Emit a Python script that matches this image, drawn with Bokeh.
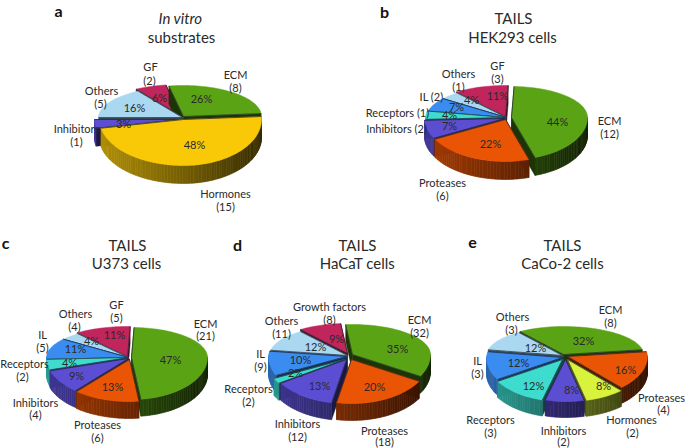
import math
from bokeh.plotting import figure
from bokeh.models import Range1d
from bokeh.core.properties import value
from bokeh.embed import file_html
from bokeh.resources import INLINE

# ---- data
a_cats = ["ECM", "Hormones", "Inhibitors", "Others", "GF"]
a_pct = [26, 48, 3, 16, 6]
a_cnt = [8, 15, 1, 5, 2]
b_cats = ["ECM", "Proteases", "Inhibitors", "Receptors", "IL", "Others", "GF"]
b_pct = [44, 22, 7, 4, 7, 4, 11]
b_cnt = [12, 6, 2, 1, 2, 1, 3]
c_cats = ["ECM", "Proteases", "Inhibitors", "Receptors", "IL", "Others", "GF"]
c_pct = [47, 13, 9, 4, 11, 4, 11]
c_cnt = [21, 6, 4, 2, 5, 4, 5]
d_cats = ["ECM", "Proteases", "Inhibitors", "Receptors", "IL", "Others", "Growth factors"]
d_pct = [35, 20, 13, 2, 10, 12, 9]
d_cnt = [32, 18, 12, 2, 9, 11, 8]
e_cats = ["ECM", "Proteases", "Hormones", "Inhibitors", "Receptors", "IL", "Others"]
e_pct = [32, 16, 8, 8, 12, 12, 12]
e_cnt = [8, 4, 2, 2, 3, 3, 3]

# ---- styles
COLORS = {"ECM": "#5aa315", "Hormones": "#f9c908", "Proteases": "#ea5505",
          "Inhibitors": "#5c4ed2", "Receptors": "#3edccf", "IL": "#3a8cf0",
          "Others": "#a9d8f0", "GF": "#c0255c", "Growth factors": "#c0255c"}
HORMONE_E = "#d9f23c"
FONT = "Lato"
LABEL = "11px"
TITLE = "15px"
INK = "#2a2a2a"


def rgb(h):
    return tuple(int(h[i:i + 2], 16) for i in (1, 3, 5))


def shade(h, f):
    return "#%02x%02x%02x" % tuple(max(0, min(255, int(c * f))) for c in rgb(h))


p = figure(width=685, height=448, x_range=Range1d(0, 685), y_range=Range1d(448, 0),
           toolbar_location=None, output_backend="svg", x_axis_location=None,
           y_axis_location=None, min_border=0, outline_line_color=None)
p.grid.visible = False


def pie(cats, pct, geom, offsets, colors=None):
    cx, cy, rxl, rxr, ryt, ryb, depth, start = geom
    total = sum(pct)

    def pt(t, ox, oy):
        c, s = math.cos(t), math.sin(t)
        return (cx + ox + (rxr if c > 0 else rxl) * c,
                cy + oy - (ryt if s > 0 else ryb) * s)

    items = []
    ang = math.radians(start)
    for cat, v, off in zip(cats, pct, offsets):
        sweep = 2 * math.pi * v / total
        items.append((cat, ang, ang - sweep, off))
        ang -= sweep
    # painter's order: back slices first
    def key(it):
        mid = (it[1] + it[2]) / 2
        return pt(mid, it[3][0], it[3][1])[1]
    items.sort(key=key)

    for cat, t0, t1, (ox, oy) in items:
        col = (colors or {}).get(cat, COLORS[cat])
        n = max(4, int(abs(t0 - t1) / math.radians(2)))
        ts = [t0 + (t1 - t0) * i / n for i in range(n + 1)]
        rim = [pt(t, ox, oy) for t in ts]
        apex = (cx + ox, cy + oy)
        # cut faces
        for e in (rim[0], rim[-1]):
            p.patch([apex[0], e[0], e[0], apex[0]],
                    [apex[1], e[1], e[1] + depth, apex[1] + depth],
                    fill_color=shade(col, 0.32), line_color=shade(col, 0.32), line_width=0.5)
        # outer wall: strips shaded from left (light) to right (dark)
        xs, ys, fills = [], [], []
        for i in range(n):
            tm = (ts[i] + ts[i + 1]) / 2
            if math.sin(tm) > 0.02:
                continue
            a, b = rim[i], rim[i + 1]
            xs.append([a[0], b[0], b[0], a[0]])
            ys.append([a[1], b[1], b[1] + depth, a[1] + depth])
            fills.append(shade(col, 0.72 - 0.5 * (math.cos(tm) + 1) / 2))
        if xs:
            p.patches(xs, ys, fill_color=fills, line_color=fills, line_width=0.6)
        # top
        p.patch([apex[0]] + [q[0] for q in rim], [apex[1]] + [q[1] for q in rim],
                fill_color=col, line_color=col, line_width=0.5)
        p.multi_line([[rim[0][0], apex[0], rim[-1][0]]], [[rim[0][1], apex[1], rim[-1][1]]],
                     line_color="#1c2430", line_alpha=0.65, line_width=1)


def texts(items, size=LABEL, style="normal", color=INK):
    p.text([i[0] for i in items], [i[1] for i in items], text=[i[2] for i in items],
           text_font=value(FONT), text_font_size=size, text_font_style=style,
           text_color=color, text_align="center", text_baseline="middle")


def two_line(cats, cnt, anchors):
    out = []
    for cat, n, an in zip(cats, cnt, anchors):
        if len(an) == 2:
            out.append((an[0], an[1], f"{cat} ({n})"))
        else:
            out.append((an[0], an[1], cat))
            out.append((an[2], an[3], f"({n})"))
    return out


def pct_labels(pct, pos):
    return [(x, y, f"{v}%") for v, (x, y) in zip(pct, pos)]


# ---- panel a
pie(a_cats, a_pct, (182, 117, 84, 78, 31, 46, 18, 100),
    [(1, -1), (1, 2), (-4, 2), (0, 0), (-2, -2)])
texts(two_line(a_cats, a_cnt, [(235, 74, 235, 87), (225, 193, 225, 206), (76, 128, 76, 141),
                               (101, 90, 100, 103), (150, 66, 149, 80)]))
texts(pct_labels(a_pct, [(201, 98), (194, 144), (123, 123), (134, 107), (159, 97)]))
texts([(180, 17, "In vitro")], TITLE, "italic")
texts([(181, 36, "substrates")], TITLE)
texts([(58, 10, "a")], "16px", "bold", "#111111")

# ---- panel b
pie(b_cats, b_pct, (506, 117, 80, 76, 31, 42, 18, 88),
    [(5, 0), (-1, 2), (-2, 1), (-1, 0), (0, 0), (0, 0), (-1, -1)])
texts(two_line(b_cats, b_cnt, [(609, 120, 609, 133), (442, 182, 442, 195), (396, 128),
                               (397, 112), (431, 96), (458, 73, 458, 86), (497, 65, 497, 78)]))
texts(pct_labels(b_pct, [(557, 121), (490, 143), (449, 125), (449, 114), (456, 106), (471, 99), (497, 95)]))
texts([(513, 17, "TAILS"), (512, 36, "HEK293 cells")], TITLE)
texts([(384, 11, "b")], "16px", "bold", "#111111")

# ---- panel c
pie(c_cats, c_pct, (128, 357, 82, 76, 30, 42, 17, 88),
    [(3, 0), (1, 2), (0, 1), (0, 0), (0, 0), (0, 0), (-1, -1)])
texts(two_line(c_cats, c_cnt, [(205, 323, 205, 335), (97, 424, 97, 437), (35, 402, 35, 414),
                               (24, 363, 22, 376), (42, 334, 42, 347), (75, 313, 74, 326),
                               (116, 304, 116, 317)]))
texts(pct_labels(c_pct, [(170, 359), (112, 386), (76, 375), (69, 362), (75, 348), (91, 340), (114, 334)]))
texts([(127, 244, "TAILS"), (126, 262, "U373 cells")], TITLE)
texts([(5, 242, "c")], "16px", "bold", "#111111")

# ---- panel d
pie(d_cats, d_pct, (349, 356, 78, 78, 30, 44, 17, 95),
    [(3, -2), (2, 3), (-3, 3), (-5, 3), (-3, 0), (-2, -1), (-2, -3)])
texts(two_line(d_cats, d_cnt, [(419, 319, 419, 332), (384, 430, 384, 441), (297, 423, 297, 436),
                               (248, 388, 248, 401), (260, 353, 260, 366), (281, 320, 281, 333),
                               (329, 306, 329, 319)]))
texts(pct_labels(d_pct, [(397, 348), (374, 386), (319, 385), (295, 372), (300, 359), (315, 346), (336, 338)]))
texts([(357, 244, "TAILS"), (357, 262, "HaCaT cells")], TITLE)
texts([(237, 244, "d")], "16px", "bold", "#111111")

# ---- panel e
pie(e_cats, e_pct, (565, 356, 76, 80, 28, 42, 16, 125),
    [(-2, -2), (2, 0), (2, 3), (0, 3), (-3, 3), (-3, 1), (-3, -1)],
    colors={"Hormones": HORMONE_E})
texts(two_line(e_cats, e_cnt, [(610, 309, 610, 322), (661, 397, 663, 409), (631, 419, 632, 432),
                               (563, 430, 563, 441), (490, 419, 490, 432), (477, 360, 477, 373),
                               (512, 316, 511, 329)]))
texts(pct_labels(e_pct, [(583, 340), (625, 369), (603, 385), (571, 389), (533, 385), (518, 362), (535, 347)]))
texts([(562, 244, "TAILS"), (562, 262, "CaCo-2 cells")], TITLE)
texts([(472, 242, "e")], "16px", "bold", "#111111")

open("out.html", "w").write(file_html(p, INLINE))
